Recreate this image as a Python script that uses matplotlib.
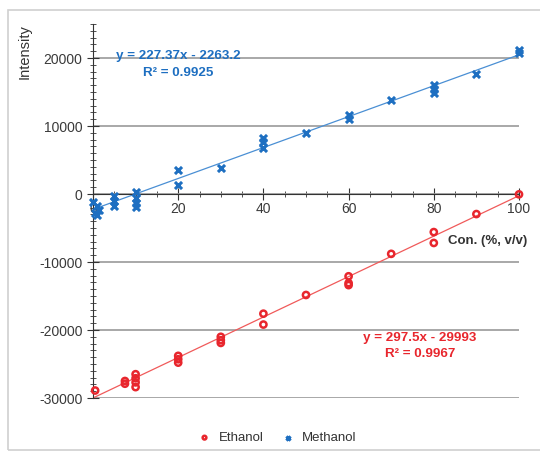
import numpy as np
import matplotlib.pyplot as plt
from matplotlib.ticker import MultipleLocator
from matplotlib.patches import Rectangle

plt.rcParams['font.family'] = ['Liberation Sans', 'DejaVu Sans']
plt.rcParams['axes.unicode_minus'] = False

# Methanol (x markers)
meth_x = [0, 0.5, 1, 1, 1.5, 5, 5, 5, 10, 10, 10, 10, 20, 20, 30, 40, 40, 40,
          50, 60, 60, 70, 80, 80, 80, 90, 100, 100]
meth_y = [-1200, -2800, -1800, -3100, -2300, -300, -1000, -1800, 300, -600, -1300, -1900,
          3500, 1300, 3800, 8200, 7600, 6700, 9000, 11600, 11100, 13800,
          16000, 15400, 14800, 17600, 21200, 20700]

# Ethanol (open circles)
eth_x = [0.5, 7.5, 7.5, 10, 10, 10, 10, 20, 20, 20, 30, 30, 30, 40, 40,
         50, 60, 60, 60, 70, 80, 80, 90, 100]
eth_y = [-28900, -27500, -27900, -26500, -27100, -27700, -28400, -23800, -24300, -24800,
         -21000, -21500, -21900, -17600, -19200,
         -14850, -12100, -13100, -13400, -8800, -5600, -7200, -2950, -50]

meth_fit = (227.37, -2263.2)
eth_fit = (297.5, -29993)

blue = '#1e6fc1'
red = '#e8262d'


def main():
    fig = plt.figure(figsize=(5.4, 4.53), dpi=100)
    fig.patches.append(Rectangle((8 / 540, 3 / 453), 1.2, 440 / 453, transform=fig.transFigure,
                                 fill=False, edgecolor='#d0d0d0', lw=1.2))
    ax = fig.add_axes([93 / 540, 55 / 453, 426 / 540, 374 / 453])

    ax.set_xlim(0, 100)
    ax.set_ylim(-30000, 25000)
    ax.spines['top'].set_visible(False)
    ax.spines['right'].set_visible(False)
    ax.spines['bottom'].set_position(('data', 0))
    ax.spines['left'].set_color('#333333')
    ax.spines['bottom'].set_color('#333333')

    ax.yaxis.set_major_locator(MultipleLocator(10000))
    ax.yaxis.set_minor_locator(MultipleLocator(1000))
    ax.xaxis.set_major_locator(MultipleLocator(20))
    ax.xaxis.set_minor_locator(MultipleLocator(5))
    ax.tick_params(which='major', direction='inout', length=8, color='#333333',
                   labelsize=10, labelcolor='#3a3a3a')
    ax.tick_params(which='minor', direction='inout', length=4, color='#333333')
    ax.tick_params(axis='x', pad=2)
    ax.set_yticks([-30000, -20000, -10000, 0, 10000, 20000])
    ax.grid(axis='y', which='major', color='#999999', lw=1.2)
    ax.set_axisbelow(True)

    xs = np.array([0, 100])
    ax.plot(xs, meth_fit[0] * xs + meth_fit[1], color='#4a8fd4', lw=0.9, zorder=2)
    ax.plot(xs, eth_fit[0] * xs + eth_fit[1], color='#f05a5a', lw=0.9, zorder=2)

    ax.scatter(eth_x, eth_y, marker='o', s=20, facecolors='none', edgecolors=red,
               linewidths=1.8, zorder=3, label='Ethanol', clip_on=False)
    ax.scatter(meth_x, meth_y, marker='x', s=26, color=blue, linewidths=2.2,
               zorder=3, label='Methanol', clip_on=False)

    ax.text(0.2, 0.915, 'y = 227.37x - 2263.2', transform=ax.transAxes, color=blue,
            fontsize=9.6, fontweight='bold', ha='center', va='center')
    ax.text(0.2, 0.87, 'R² = 0.9925', transform=ax.transAxes, color=blue,
            fontsize=9.6, fontweight='bold', ha='center', va='center')
    ax.text(0.767, 0.16, 'y = 297.5x - 29993', transform=ax.transAxes, color=red,
            fontsize=9.6, fontweight='bold', ha='center', va='center')
    ax.text(0.767, 0.117, 'R² = 0.9967', transform=ax.transAxes, color=red,
            fontsize=9.6, fontweight='bold', ha='center', va='center')

    ax.text(1.02, 0.42, 'Con. (%, v/v)', transform=ax.transAxes, color='#333333',
            fontsize=9.5, fontweight='bold', ha='right', va='center')
    fig.text(25 / 540, 1 - 52 / 453, 'Intensity', rotation=90, color='#333333',
             fontsize=10.5, ha='center', va='center')

    fig.legend(loc='center', bbox_to_anchor=(274 / 540, 1 - 438 / 453), ncol=2, frameon=False,
               fontsize=9.5, handletextpad=0.1, columnspacing=0.8, markerscale=0.6,
               labelcolor='#333333')

    plt.savefig('out.png', dpi=100)


if __name__ == '__main__':
    main()
